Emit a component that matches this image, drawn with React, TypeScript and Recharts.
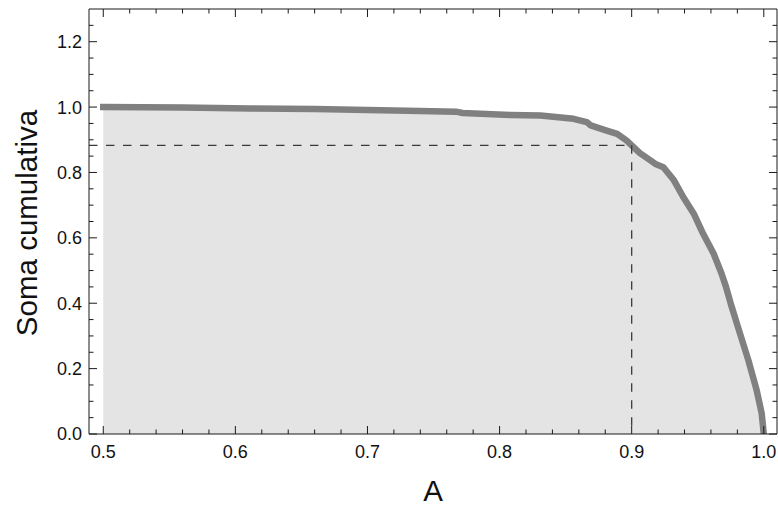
import React from 'react';
import { ComposedChart, Area, XAxis, YAxis, ReferenceLine } from 'recharts';

// Data
const A_VALUES = [0.5, 0.56, 0.611, 0.66, 0.73, 0.767, 0.772, 0.808, 0.831, 0.856, 0.866, 0.869, 0.881, 0.889, 0.896, 0.9, 0.906, 0.918, 0.924, 0.932, 0.939, 0.947, 0.954, 0.962, 0.968, 0.9714, 0.9757, 0.982, 0.9883, 0.9946, 0.9984, 1.0];
const CUM_SUM = [1.0, 0.999, 0.996, 0.994, 0.989, 0.986, 0.982, 0.976, 0.974, 0.964, 0.954, 0.944, 0.928, 0.918, 0.898, 0.883, 0.86, 0.826, 0.816, 0.776, 0.725, 0.674, 0.613, 0.552, 0.491, 0.45, 0.389, 0.307, 0.226, 0.134, 0.063, 0.0];

const X_TICKS = [0.5, 0.52, 0.54, 0.56, 0.58, 0.6, 0.62, 0.64, 0.66, 0.68, 0.7, 0.72, 0.74, 0.76, 0.78, 0.8, 0.82, 0.84, 0.86, 0.88, 0.9, 0.92, 0.94, 0.96, 0.98, 1.0];
const Y_TICKS = [0, 0.05, 0.1, 0.15, 0.2, 0.25, 0.3, 0.35, 0.4, 0.45, 0.5, 0.55, 0.6, 0.65, 0.7, 0.75, 0.8, 0.85, 0.9, 0.95, 1.0, 1.05, 1.1, 1.15, 1.2, 1.25];

const X_DOMAIN: [number, number] = [0.4892, 1.01];
const Y_DOMAIN: [number, number] = [0, 1.3];

const THRESHOLD_A = 0.9;
const THRESHOLD_SUM = 0.883;

const X_TITLE = 'A';
const Y_TITLE = 'Soma cumulativa';

const data = A_VALUES.map((a, i) => ({ a, s: CUM_SUM[i] }));

// Layout
const W = 778;
const H = 507;
const PLOT_LEFT = 89;
const PLOT_RIGHT = 777;
const PLOT_TOP = 9;
const PLOT_BOTTOM = 434;
const MAJOR = 8;
const MINOR = 4.5;
const FONT = '"Liberation Sans", Arial, Helvetica, sans-serif';
const FRAME = '#1a1a1a';

const isMajor = (v: number, step: number) => Math.abs(v / step - Math.round(v / step)) < 1e-6;

const XTick = (props: any) => {
  const { x, payload } = props;
  const v = payload.value as number;
  const major = isMajor(v, 0.1);
  const len = major ? MAJOR : MINOR;
  return (
    <g>
      <line x1={x} x2={x} y1={PLOT_BOTTOM} y2={PLOT_BOTTOM - len} stroke={FRAME} strokeWidth={1} />
      <line x1={x} x2={x} y1={PLOT_TOP} y2={PLOT_TOP + len} stroke={FRAME} strokeWidth={1} />
      {major && (
        <text x={x} y={458} textAnchor="middle" fontFamily={FONT} fontSize={18} fill="#111">
          {v.toFixed(1)}
        </text>
      )}
    </g>
  );
};

const YTick = (props: any) => {
  const { y, payload } = props;
  const v = payload.value as number;
  const major = isMajor(v, 0.2);
  const len = major ? MAJOR : MINOR;
  return (
    <g>
      <line x1={PLOT_LEFT} x2={PLOT_LEFT + len} y1={y} y2={y} stroke={FRAME} strokeWidth={1} />
      <line x1={PLOT_RIGHT} x2={PLOT_RIGHT - len} y1={y} y2={y} stroke={FRAME} strokeWidth={1} />
      {major && (
        <text x={82} y={y} dy="0.36em" textAnchor="end" fontFamily={FONT} fontSize={18} fill="#111">
          {v.toFixed(1)}
        </text>
      )}
    </g>
  );
};

export default function App() {
  return (
    <div style={{ position: 'absolute', left: 0, top: 0, width: W, height: H, background: '#fff' }}>
      <ComposedChart
        width={W}
        height={H}
        data={data}
        margin={{ top: PLOT_TOP, right: W - PLOT_RIGHT, bottom: 33, left: 29 }}
      >
        <XAxis
          dataKey="a"
          type="number"
          domain={X_DOMAIN}
          allowDataOverflow
          ticks={X_TICKS}
          interval={0}
          height={H - 33 - PLOT_BOTTOM}
          tickLine={false}
          axisLine={{ stroke: FRAME, strokeWidth: 1 }}
          tick={<XTick />}
        />
        <YAxis
          type="number"
          domain={Y_DOMAIN}
          allowDataOverflow
          ticks={Y_TICKS}
          interval={0}
          width={PLOT_LEFT - 29}
          tickLine={false}
          axisLine={{ stroke: FRAME, strokeWidth: 1 }}
          tick={<YTick />}
        />
        <Area
          dataKey="s"
          type="linear"
          fill="#e4e4e4"
          fillOpacity={1}
          stroke="#808080"
          strokeWidth={6.5}
          strokeLinecap="square"
          strokeLinejoin="round"
          isAnimationActive={false}
          dot={false}
          activeDot={false}
        />
        <ReferenceLine
          segment={[{ x: X_DOMAIN[0], y: THRESHOLD_SUM }, { x: THRESHOLD_A, y: THRESHOLD_SUM }]}
          stroke="#3a3a3a"
          strokeWidth={1.3}
          strokeDasharray="8.5 8.5"
        />
        <ReferenceLine
          segment={[{ x: THRESHOLD_A, y: THRESHOLD_SUM }, { x: THRESHOLD_A, y: 0 }]}
          stroke="#3a3a3a"
          strokeWidth={1.3}
          strokeDasharray="8.5 8.5"
        />
        <ReferenceLine y={Y_DOMAIN[1]} stroke={FRAME} strokeWidth={1} />
        <ReferenceLine x={X_DOMAIN[1]} stroke={FRAME} strokeWidth={1} />
      </ComposedChart>
      <svg
        width={W}
        height={H}
        style={{ position: 'absolute', left: 0, top: 0, pointerEvents: 'none' }}
      >
        <text x={433} y={501} textAnchor="middle" fontFamily={FONT} fontSize={29.5} fill="#111">
          {X_TITLE}
        </text>
        <text
          x={36.5}
          y={223}
          textAnchor="middle"
          fontFamily={FONT}
          fontSize={29.5}
          fill="#111"
          transform="rotate(-90 36.5 223)"
        >
          {Y_TITLE}
        </text>
      </svg>
    </div>
  );
}
